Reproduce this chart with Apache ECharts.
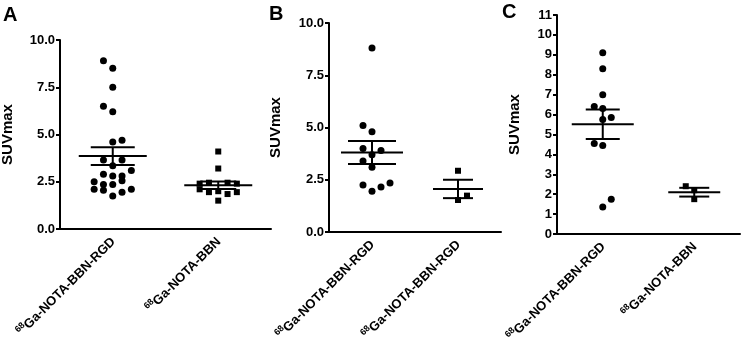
<!DOCTYPE html>
<html>
<head>
<meta charset="utf-8">
<script src="https://cdn.jsdelivr.net/npm/echarts@6/dist/echarts.min.js"></script>
<style>
	html, body { margin: 0; padding: 0; background: #fff; }
	#chart { width: 749px; height: 340px; }
</style>
</head>
<body>
<div id="chart"></div>
<script>
	// isotope prefix written as superscript in the axis labels
	var isotope = '68';

	var categoriesA = ['Ga-NOTA-BBN-RGD', 'Ga-NOTA-BBN'];
	var categoriesB = ['Ga-NOTA-BBN-RGD', 'Ga-NOTA-BBN-RGD'];
	var categoriesC = ['Ga-NOTA-BBN-RGD', 'Ga-NOTA-BBN'];

	// points as [column in the dot plot, SUVmax]
	var pointsA1 = [
		[-1, 8.9], [0, 8.5], [0, 7.5], [-1, 6.5], [0, 6.2], [0, 4.6], [1, 4.7],
		[-1, 3.65], [1, 3.65], [0, 3.35], [2, 3.1], [-1, 2.9], [0, 2.8], [1, 2.8],
		[-2, 2.5], [1, 2.55], [-1, 2.35], [0, 2.35], [-2, 2.1], [-1, 2.05], [2, 2.1],
		[1, 1.95], [0, 1.75]
	];
	var pointsA2 = [
		[0, 4.1], [0, 3.2], [-2, 2.4], [-1, 2.45], [1, 2.45], [2, 2.4],
		[-2, 2.1], [-1, 1.95], [0, 2.0], [1, 1.85], [2, 1.95], [0, 1.5]
	];
	var pointsB1 = [
		[0, 8.8], [-1, 5.1], [0, 4.8], [-1, 4.0], [1, 3.9], [0, 3.7],
		[-1, 3.4], [0, 3.1], [-1, 2.25], [2, 2.35], [1, 2.15], [0, 1.95]
	];
	var pointsB2 = [[0, 2.93], [1, 1.74], [0, 1.53]];
	var pointsC1 = [
		[0, 9.1], [0, 8.3], [0, 7.0], [-1, 6.4], [0, 6.3], [0, 5.75], [1, 5.85],
		[-1, 4.55], [0, 4.45], [1, 1.75], [0, 1.35]
	];
	var pointsC2 = [[-1, 2.4], [0, 2.2], [0, 1.75]];

	// mean and SEM per group
	var meanA = [3.86, 2.31], semA = [0.47, 0.2];
	var meanB = [3.8, 2.06], semB = [0.55, 0.44];
	var meanC = [5.51, 2.1], semC = [0.74, 0.22];

	var ticksA = [0, 10, 2.5];
	var ticksB = [0, 10, 2.5];
	var ticksC = [0, 11, 1];

	var font = 'Liberation Sans, Arial, sans-serif';

	/*
		one panel: two scatter groups + mean / SEM bars
		@idx: grid index
		@groups: [circles, squares]
		@layout: column step and bar half widths (px)
	*/
	function panelSeries(idx, groups, means, sems, layout) {
		var series = [];

		for (var g = 0; g < groups.length; g++) {
			var data = [];
			for (var i = 0; i < groups[g].length; i++) {
				data.push({
					value: [g, groups[g][i][1]],
					symbolOffset: [groups[g][i][0] * layout.step, 0]
				});
			}
			series.push({
				type: 'scatter',
				xAxisIndex: idx,
				yAxisIndex: idx,
				symbol: g === 0 ? 'circle' : 'rect',
				symbolSize: g === 0 ? 7 : 6,
				itemStyle: { color: '#000', opacity: 1 },
				silent: true,
				data: data
			});
		}

		var barData = [];
		for (var k = 0; k < means.length; k++) {
			barData.push([k, means[k], sems[k]]);
		}

		series.push({
			type: 'custom',
			xAxisIndex: idx,
			yAxisIndex: idx,
			silent: true,
			z: 3,
			data: barData,
			renderItem: function (params, api) {
				var i = api.value(0), m = api.value(1), s = api.value(2);
				var c = api.coord([i, m]);
				var up = api.coord([i, m + s]);
				var lo = api.coord([i, m - s]);
				var hm = layout.meanHalf[i], hs = layout.semHalf[i];
				var st = { stroke: '#000', lineWidth: 2 };
				return {
					type: 'group',
					children: [
						{ type: 'line', shape: { x1: c[0] - hm, y1: c[1], x2: c[0] + hm, y2: c[1] }, style: st },
						{ type: 'line', shape: { x1: c[0] - hs, y1: up[1], x2: c[0] + hs, y2: up[1] }, style: st },
						{ type: 'line', shape: { x1: c[0] - hs, y1: lo[1], x2: c[0] + hs, y2: lo[1] }, style: st },
						{ type: 'line', shape: { x1: c[0], y1: up[1], x2: c[0], y2: lo[1] }, style: st }
					]
				};
			}
		});

		return series;
	}

	function xAxisFor(idx, cats) {
		return {
			type: 'category',
			gridIndex: idx,
			data: cats,
			boundaryGap: true,
			axisLine: { lineStyle: { color: '#000', width: 2 } },
			axisTick: { alignWithLabel: true, length: 5, lineStyle: { color: '#000', width: 2 } },
			splitLine: { show: false },
			axisLabel: {
				interval: 0,
				rotate: 45,
				margin: 10,
				color: '#000',
				formatter: function (v) {
					return '{sup|' + isotope + '}{main|' + v + '}';
				},
				rich: {
					sup: { fontSize: 9, fontWeight: 'bold', fontFamily: font, color: '#000', verticalAlign: 'top', lineHeight: 15 },
					main: { fontSize: 13, fontWeight: 'bold', fontFamily: font, color: '#000', verticalAlign: 'bottom', lineHeight: 15 }
				}
			}
		};
	}

	function yAxisFor(idx, ticks, gap, digits) {
		return {
			type: 'value',
			gridIndex: idx,
			min: ticks[0],
			max: ticks[1],
			interval: ticks[2],
			name: 'SUVmax',
			nameLocation: 'middle',
			nameGap: gap,
			nameTextStyle: { fontSize: 15, fontWeight: 'bold', fontFamily: font, color: '#000' },
			axisLine: { show: true, lineStyle: { color: '#000', width: 2 } },
			axisTick: { show: true, length: 4, lineStyle: { color: '#000', width: 2 } },
			splitLine: { show: false },
			axisLabel: {
				margin: 5,
				fontSize: 13,
				fontWeight: 'bold',
				fontFamily: font,
				color: '#000',
				formatter: function (v) { return v.toFixed(digits); }
			}
		};
	}

	var chart = echarts.init(document.getElementById('chart'));

	var letterStyle = { fontSize: 20, fontWeight: 'bold', fontFamily: font, color: '#000' };

	option = {
		backgroundColor: '#fff',
		animation: false,
		title: [
			{ text: 'A', left: 3, top: 5, padding: 0, textStyle: letterStyle },
			{ text: 'B', left: 269, top: 4, padding: 0, textStyle: letterStyle },
			{ text: 'C', left: 502, top: 2, padding: 0, textStyle: letterStyle }
		],
		grid: [
			{ left: 60, right: 478, top: 40, bottom: 111, containLabel: false, outerBoundsMode: 'none' },
			{ left: 329, right: 248, top: 23, bottom: 108, containLabel: false, outerBoundsMode: 'none' },
			{ left: 557, right: 9, top: 15, bottom: 106, containLabel: false, outerBoundsMode: 'none' }
		],
		xAxis: [
			xAxisFor(0, categoriesA),
			xAxisFor(1, categoriesB),
			xAxisFor(2, categoriesC)
		],
		yAxis: [
			yAxisFor(0, ticksA, 45, 1),
			yAxisFor(1, ticksB, 46, 1),
			yAxisFor(2, ticksC, 35, 0)
		],
		series: [].concat(
			panelSeries(0, [pointsA1, pointsA2], meanA, semA,
				{ step: 9.3, meanHalf: [34, 34], semHalf: [22, 18] }),
			panelSeries(1, [pointsB1, pointsB2], meanB, semB,
				{ step: 9, meanHalf: [31, 25], semHalf: [24, 15] }),
			panelSeries(2, [pointsC1, pointsC2], meanC, semC,
				{ step: 8.5, meanHalf: [31, 26], semHalf: [17, 15] })
		)
	};

	chart.setOption(option);
</script>
</body>
</html>
